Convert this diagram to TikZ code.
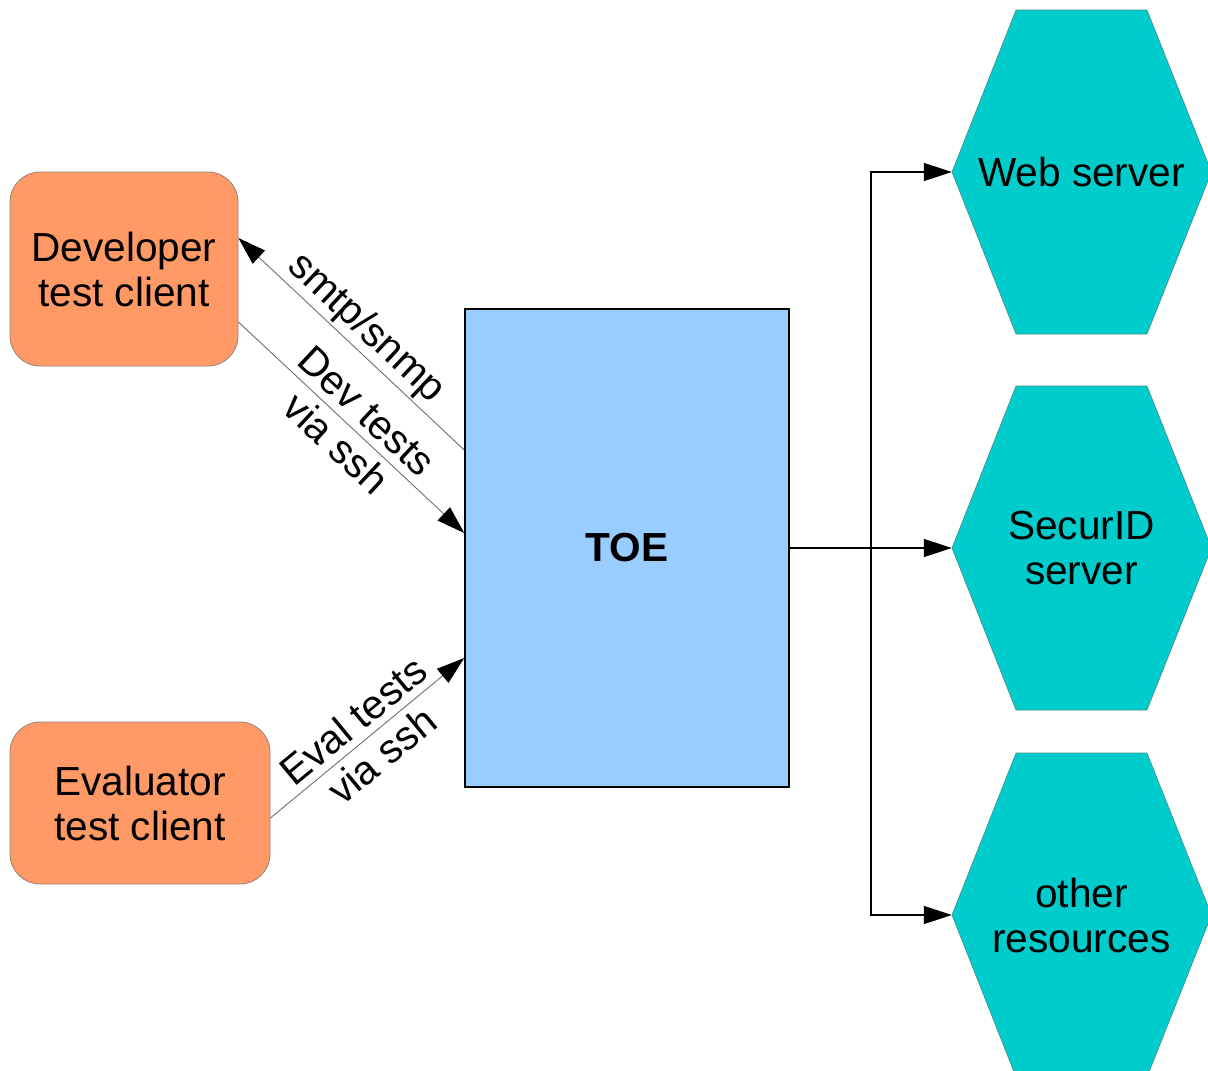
\documentclass[tikz,border=0pt]{standalone}
\usepackage{fontspec}
\setmainfont{Liberation Sans}
\usetikzlibrary{arrows.meta}

\definecolor{clientfill}{RGB}{255,153,102}
\definecolor{clientline}{RGB}{150,130,120}
\definecolor{toefill}{RGB}{153,204,255}
\definecolor{resfill}{RGB}{0,204,204}
\definecolor{resline}{RGB}{70,140,140}
\definecolor{linkgray}{RGB}{110,110,110}

\newcommand\diagfont{\fontsize{40.6}{45}\selectfont}

\tikzset{
  client/.style={draw=clientline, line width=0.8pt, fill=clientfill,
    rounded corners=30pt, align=center, font=\diagfont, inner sep=0pt},
  toebox/.style={draw=black, line width=1.5pt, fill=toefill,
    font=\diagfont\bfseries, inner sep=0pt},
  resshape/.style={draw=resline, line width=0.6pt, fill=resfill},
  restext/.style={align=center, font=\diagfont, inner sep=0pt,
    minimum width=259pt, minimum height=40pt},
  thinlink/.style={draw=linkgray, line width=0.9pt},
  reslink/.style={draw=black, line width=1.4pt},
  headtip/.style={-{Triangle[length=28pt,width=18pt,color=black]}},
  tailtip/.style={{Triangle[length=28pt,width=18pt,color=black]}-},
  lbl/.style={font=\diagfont, align=center, inner sep=2pt}
}

% hexagon outline around a given centre
\newcommand\reshex[1]{%
  \path[resshape] (#1) ++(-129.5,0) -- ++(64,-162) -- ++(131,0)
    -- ++(64.5,162) -- ++(-64.5,162) -- ++(-131,0) -- cycle;}

\begin{document}
\begin{tikzpicture}[x=1pt, y=-1pt]
  \useasboundingbox (0,0) rectangle (1208,1071);
  \clip (0,0) rectangle (1208,1071);

  % clients
  \node[client, minimum width=228pt, minimum height=194pt] (dev) at (124,269)
    {Developer\\test client};
  \node[client, minimum width=260pt, minimum height=162pt] (eval) at (140,803)
    {Evaluator\\test client};

  % target of evaluation
  \node[toebox, minimum width=324pt, minimum height=478pt] (toe) at (627,548) {TOE};

  % resources
  \reshex{1081.5,172}
  \reshex{1081.5,548}
  \reshex{1081.5,915}
  \node[restext] (web) at (1081.5,172) {Web server};
  \node[restext] (sec) at (1081.5,548) {SecurID\\server};
  \node[restext] (oth) at (1081.5,915) {other\\resources};

  % client connections
  \draw[thinlink, tailtip] ([yshift=31pt]dev.east)
    -- node[lbl, sloped, above] {smtp/snmp} ([yshift=98pt]toe.west);
  \draw[thinlink, headtip] ([yshift=-53pt]dev.east)
    -- node[lbl, sloped] {Dev tests\\via ssh} ([yshift=15pt]toe.west);
  \draw[thinlink, headtip] ([yshift=-15pt]eval.east)
    -- node[lbl, sloped] {Eval tests\\via ssh} ([yshift=-110pt]toe.west);

  % resource connections
  \coordinate (branch) at (871,548);
  \draw[reslink, headtip] (toe.east) -- (sec.west);
  \draw[reslink, headtip] (branch) |- (web.west);
  \draw[reslink, headtip] (branch) |- (oth.west);
\end{tikzpicture}
\end{document}
